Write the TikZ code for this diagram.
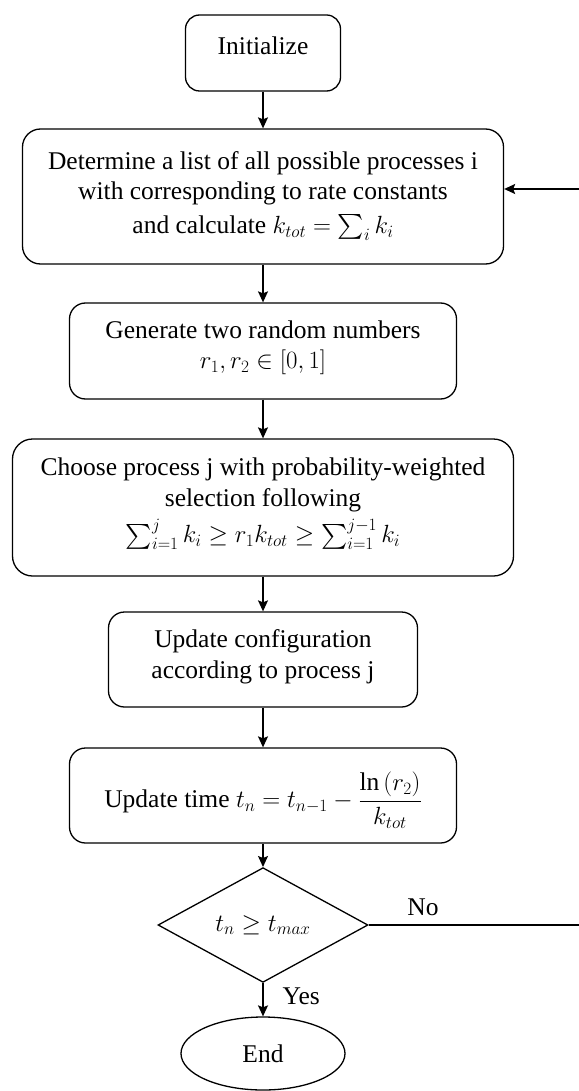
\documentclass[tikz,border=0pt]{standalone}
\usepackage{amsmath}
\usepackage{fontspec}
\setmainfont{Liberation Serif}
\usetikzlibrary{shapes.geometric,arrows.meta}

\begin{document}
\begin{tikzpicture}[x=1pt,y=-1pt,
  every node/.style={font=\fontsize{25.5}{30.5}\selectfont},
  stepbox/.style={draw, line width=1.3pt, rounded corners=16pt, inner sep=0pt},
  steptext/.style={align=center, inner sep=0pt},
  decision/.style={draw, diamond, line width=1.3pt, inner sep=0pt},
  terminal/.style={draw, ellipse, line width=1.3pt, inner sep=0pt},
  flow/.style={line width=1.3pt, -{Stealth[length=11pt,width=10pt,inset=2pt]}},
  branch/.style={inner sep=0pt}
]
\useasboundingbox (0,0) rectangle (578,1091);

% frames of the process steps
\node[stepbox, rounded corners=14pt, minimum width=155pt, minimum height=76pt]  (init)   at (263,53)    {};
\node[stepbox, rounded corners=18pt, minimum width=481pt, minimum height=135pt] (list)   at (263,196.5) {};
\node[stepbox, minimum width=387pt, minimum height=96pt]  (rand)   at (263,351)   {};
\node[stepbox, rounded corners=20pt, minimum width=501pt, minimum height=137pt] (choose) at (263,507.5) {};
\node[stepbox, minimum width=309pt, minimum height=95pt]  (config) at (263,659.5) {};
\node[stepbox, minimum width=387pt, minimum height=95pt]  (time)   at (263,795.5) {};

% texts of the process steps
\node[steptext] (initT)   at (263,46)  {Initialize};
\node[steptext] (listT)   at (263,196) {Determine a list of all possible processes i\\
  with corresponding to rate constants\\[3pt]
  and calculate $k_{tot} = \sum_i k_i$};
\node[steptext] (randT)   at (263,348) {Generate two random numbers\\ $r_1, r_2 \in [0,1]$};
\node[steptext] (chooseT) at (263,504) {Choose process j with probability-weighted\\
  selection following\\[6pt]
  $\sum_{i=1}^{j} k_i \geq r_1 k_{tot} \geq \sum_{i=1}^{j-1} k_i$};
\node[steptext] (configT) at (263,657) {Update configuration\\ according to process j};
\node[steptext] (timeT)   at (263,800) {Update time $t_n = t_{n-1} - \dfrac{\ln\,(r_2)}{k_{tot}}$};

% decision and end
\node[decision, minimum width=210pt, minimum height=96pt] (test) at (263,925) {$t_n \geq t_{max}$};
\node[terminal, minimum width=164pt, minimum height=73pt] (stop) at (263,1053.5) {End};

% main flow
\draw[flow] (init) -- (list);
\draw[flow] (list) -- (rand);
\draw[flow] (rand) -- (choose);
\draw[flow] (choose) -- (config);
\draw[flow] (config) -- (time);
\draw[flow] (time) -- (test);
\draw[flow] (test) -- (stop) node[branch, pos=0.4, right=19pt] (yes) {Yes};

% loop back while the time limit is not reached
\coordinate (loopR) at (582,925);
\draw[flow] (test.east) -- (loopR) |- ([yshift=7.5pt]list.east);
\node[branch] (no) at (423,907) {No};
\end{tikzpicture}
\end{document}
